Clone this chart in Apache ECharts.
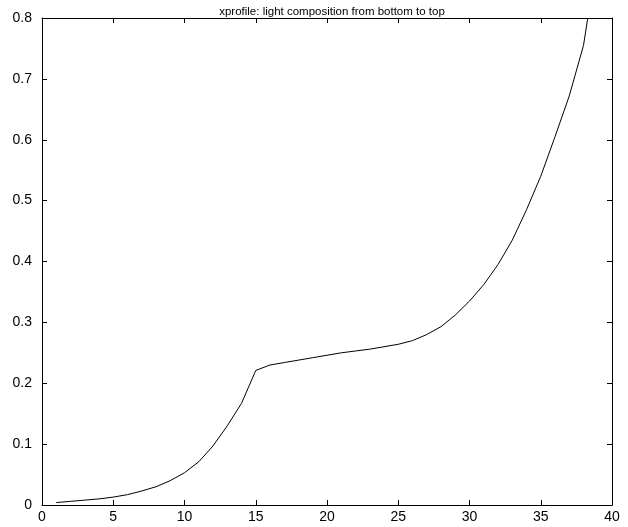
<!DOCTYPE html>
<html>
<head>
<meta charset="utf-8">
<script src="https://cdn.jsdelivr.net/npm/echarts@6/dist/echarts.min.js"></script>
<style>html,body{margin:0;padding:0;background:#fff}#c{width:628px;height:527px}</style>
</head>
<body>
<div id="c"></div>
<script>
const titleText = 'xprofile: light composition from bottom to top';
const xValues = [1,2,3,4,5,6,7,8,9,10,11,12,13,14,15,16,17,18,19,20,21,22,23,24,25,26,27,28,29,30,31,32,33,34,35,36,37,38,38.3];
const yValues = [0.004,0.006,0.008,0.01,0.013,0.017,0.023,0.03,0.04,0.053,0.071,0.097,0.13,0.167,0.221,0.23,0.234,0.238,0.242,0.246,0.25,0.253,0.256,0.26,0.264,0.27,0.28,0.293,0.312,0.335,0.362,0.395,0.435,0.485,0.54,0.605,0.672,0.755,0.8];
const xTicks = [0,5,10,15,20,25,30,35,40];
const yTicks = [0,0.1,0.2,0.3,0.4,0.5,0.6,0.7,0.8];

const font = "'Liberation Sans Narrow', 'Liberation Sans', Arial, sans-serif";
const chart = echarts.init(document.getElementById('c'), null, {renderer: 'canvas'});
const axisLine = {show: true, onZero: false, lineStyle: {color: '#000', width: 1}};
const tick = {show: true, inside: true, length: 5, lineStyle: {color: '#000'}};
chart.setOption({
  animation: false,
  backgroundColor: '#fff',
  title: {text: titleText, left: 327, top: 1, textAlign: 'center',
    textStyle: {fontFamily: "'Liberation Sans', Arial, sans-serif", fontSize: 11.5, fontWeight: 'normal', color: '#000'}},
  grid: {left: 42, right: 16, top: 18, bottom: 22},
  xAxis: [
    {type: 'value', min: xTicks[0], max: xTicks[xTicks.length-1], interval: 5, position: 'bottom',
     axisLine: axisLine, axisTick: tick, splitLine: {show: false},
     axisLabel: {color: '#000', fontFamily: font, fontSize: 14, margin: 5}},
    {type: 'value', min: xTicks[0], max: xTicks[xTicks.length-1], interval: 5, position: 'top',
     axisLine: axisLine, axisTick: tick, splitLine: {show: false}, axisLabel: {show: false}}
  ],
  yAxis: [
    {type: 'value', min: yTicks[0], max: yTicks[yTicks.length-1], interval: 0.1, position: 'left',
     axisLine: axisLine, axisTick: tick, splitLine: {show: false},
     axisLabel: {color: '#000', fontFamily: font, fontSize: 14, margin: 10,
       formatter: v => (Math.round(v*10)/10).toString()}},
    {type: 'value', min: yTicks[0], max: yTicks[yTicks.length-1], interval: 0.1, position: 'right',
     axisLine: axisLine, axisTick: tick, splitLine: {show: false}, axisLabel: {show: false}}
  ],
  series: [{
    type: 'line', showSymbol: false, symbol: 'none',
    data: xValues.map((x, i) => [x, yValues[i]]),
    lineStyle: {color: '#000', width: 1}
  }]
});
</script>
</body>
</html>
